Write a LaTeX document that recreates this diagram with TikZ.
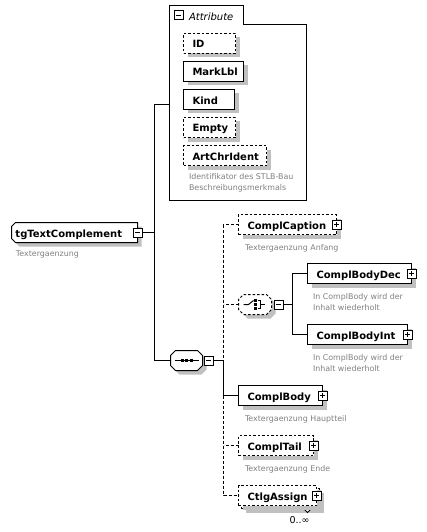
\documentclass[tikz,border=0pt]{standalone}
\usepackage{fontspec}
\setmainfont{DejaVu Sans}
\usetikzlibrary{shadows}
\definecolor{shgrey}{RGB}{192,192,192}
\definecolor{descgrey}{RGB}{128,128,128}
\newcommand{\lbl}[3]{\makebox[#1pt][l]{\hspace*{#2pt}#3}}
\begin{document}
\begin{tikzpicture}[x=1pt,y=-1pt,line width=1pt,
  conn/.style={line width=1pt},
  dconn/.style={line width=1pt, dash pattern=on 3pt off 2pt},
  opt/.style={dash pattern=on 2.5pt off 2pt},
  elem/.style={draw, fill=white, line width=1pt, inner sep=0pt, outer sep=0pt,
    minimum height=20pt, text height=11.5pt, text depth=2.5pt,
    font=\fontsize{10}{12}\selectfont\bfseries, anchor=west,
    general shadow={draw=none, fill=shgrey, shadow xshift=4pt, shadow yshift=-4pt}},
  ghost/.style={inner sep=0pt, outer sep=0pt, minimum height=20pt, anchor=west},
  desc/.style={anchor=base west, inner sep=0pt, align=left, text=descgrey,
    font=\fontsize{7.9}{11}\selectfont},
  pm/.style={draw, fill=white, line width=1pt, minimum size=9pt, inner sep=0pt, outer sep=0pt},
  minus/.style={pm, path picture={\draw[line width=1pt]
      ([xshift=2pt]path picture bounding box.west) -- ([xshift=-2pt]path picture bounding box.east);}},
  plus/.style={pm, path picture={\draw[line width=1pt]
      ([xshift=2pt]path picture bounding box.west) -- ([xshift=-2pt]path picture bounding box.east)
      ([yshift=-2pt]path picture bounding box.north) -- ([yshift=2pt]path picture bounding box.south);}},
]
\useasboundingbox (-0.5,-0.5) rectangle (426.5,531.5);

% ---------- main element ----------
\fill[shgrey] (19,226) -- (141,226) -- (141,246) -- (19,246) -- (15,242) -- (15,230) -- cycle;
\draw[fill=white] (15,222) -- (137,222) -- (137,242) -- (15,242) -- (11,238) -- (11,226) -- cycle;
\node[ghost, minimum width=126pt, text height=11.5pt, text depth=2.5pt,
  font=\fontsize{10}{12}\selectfont\bfseries] (tg) at (11,232) {\lbl{126}{4}{tgTextComplement}};
\node[minus] (tgm) at (tg.east) {};
\node[desc] (tgd) at (15,256) {Textergaenzung};

% ---------- attribute group ----------
\draw (169,200) -- (169,5) -- (243,5) -- (243,24) -- (306,24) -- (306,200) -- cycle;
\node[minus] (attrm) at (178,15) {};
\node[anchor=base west, inner sep=0pt, font=\fontsize{10}{12}\selectfont\itshape] (attrlbl) at (188,20) {Attribute};
\coordinate (attrL) at (169,104);

\node[elem, opt] (ID) at (183,43) {\lbl{52}{9}{ID}};
\node[elem] (MarkLbl) at (183,71) {\lbl{60}{9}{MarkLbl}};
\node[elem] (Kind) at (183,99) {\lbl{51}{9}{Kind}};
\node[elem, opt] (Empty) at (183,127) {\lbl{52}{9}{Empty}};
\node[elem, opt] (ArtChrIdent) at (183,155) {\lbl{83}{9}{ArtChrIdent}};
\node[desc] (ArtChrIdentd) at (188,190) {Identifikator des STLB-Bau\\Beschreibungsmerkmals};

% ---------- sequence ----------
\node[ghost, minimum width=32pt] (seq) at (170,360) {};
\fill[shgrey] (179,354) -- (201,354) -- (206,359) -- (206,369) -- (201,374) -- (179,374) -- (174,369) -- (174,359) -- cycle;
\draw[fill=white] (175,350) -- (197,350) -- (202,355) -- (202,365) -- (197,370) -- (175,370) -- (170,365) -- (170,355) -- cycle;
\draw (174,360) -- (198,360);
\fill (180,358.5) rectangle (183,361.5);
\fill (184.5,358.5) rectangle (187.5,361.5);
\fill (189,358.5) rectangle (192,361.5);
\node[minus] (seqm) at (208,360) {};

% ---------- choice ----------
\node[ghost, minimum width=33pt] (choice) at (238,304) {};
\fill[shgrey] (247,298) -- (270,298) -- (275,303) -- (275,313) -- (270,318) -- (247,318) -- (242,313) -- (242,303) -- cycle;
\draw[fill=white, opt] (243,294) -- (266,294) -- (271,299) -- (271,309) -- (266,314) -- (243,314) -- (238,309) -- (238,299) -- cycle;
\draw (243,304) -- (248,304) -- (253,300);
\fill (253.75,298.75) rectangle (256.25,301.25);
\fill (253.75,302.75) rectangle (256.25,305.25);
\fill (253.75,306.75) rectangle (256.25,309.25);
\draw (257.5,300) -- (260,300) -- (260,308) -- (257.5,308) (260,304) -- (264,304);
\node[minus] (choicem) at (278,304) {};

% ---------- children ----------
\node[elem, opt] (ComplCaption) at (238,224) {\lbl{98}{9}{ComplCaption}};
\node[plus] (ComplCaptionp) at (ComplCaption.east) {};
\node[desc] (ComplCaptiond) at (244,250) {Textergaenzung Anfang};

\node[elem] (ComplBodyDec) at (307,273) {\lbl{104}{9}{ComplBodyDec}};
\node[plus] (ComplBodyDecp) at (ComplBodyDec.east) {};
\node[desc] (ComplBodyDecd) at (312,310) {In ComplBody wird der\\Inhalt wiederholt};

\node[elem] (ComplBodyInt) at (307,334) {\lbl{100}{9}{ComplBodyInt}};
\node[plus] (ComplBodyIntp) at (ComplBodyInt.east) {};
\node[desc] (ComplBodyIntd) at (312,371) {In ComplBody wird der\\Inhalt wiederholt};

\node[elem] (ComplBody) at (238,395) {\lbl{84}{9}{ComplBody}};
\node[plus] (ComplBodyp) at (ComplBody.east) {};
\node[desc] (ComplBodyd) at (244,421) {Textergaenzung Hauptteil};

\node[elem, opt] (ComplTail) at (238,445) {\lbl{75}{9}{ComplTail}};
\node[plus] (ComplTailp) at (ComplTail.east) {};
\node[desc] (ComplTaild) at (244,471) {Textergaenzung Ende};

\fill[shgrey] (245,492) rectangle (323,512);
\draw[fill=white, opt] (241,488) rectangle (319,508);
\draw[fill=white] (303,508) -- (307,512) -- (311,508);
\node[elem, opt, general shadow={draw=none, fill=none}] (CtlgAssign) at (238,495) {\lbl{78}{9}{CtlgAssign}};
\node[plus] (CtlgAssignp) at (CtlgAssign.east) {};
\node[anchor=base, inner sep=0pt, font=\fontsize{9.5}{11}\selectfont] (occ) at (299,523) {0..∞};

% ---------- connectors ----------
\coordinate (bus1) at (154,232);
\coordinate (bus2) at (223,360);
\coordinate (bus3) at (292,304);
\draw[conn] (tgm.east) -- (bus1);
\draw[conn] (attrL) -| (bus1 |- seq.west) -- (seq.west);
\draw[conn] (seqm.east) -- (bus2);
\draw[dconn] (ComplCaption.west) -| (bus2);
\draw[dconn] (choice.west) -- (bus2 |- choice.west);
\draw[conn] (bus2) |- (ComplBody.west);
\draw[dconn] (bus2 |- ComplBody.west) |- (CtlgAssign.west);
\draw[dconn] (ComplTail.west) -- (bus2 |- ComplTail.west);
\draw[conn] (choicem.east) -- (bus3);
\draw[conn] (ComplBodyDec.west) -| (bus3 |- ComplBodyInt.west) -- (ComplBodyInt.west);
\end{tikzpicture}
\end{document}
